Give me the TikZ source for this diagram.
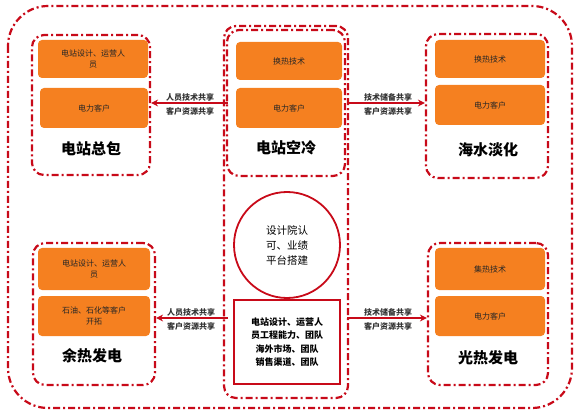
\documentclass[tikz,border=0pt]{standalone}
\usepackage{fontspec}
\newfontfamily\cjk{Noto Sans CJK SC}
\usetikzlibrary{arrows.meta}
\definecolor{dred}{RGB}{200,10,25}
\definecolor{orng}{RGB}{245,128,32}
\tikzset{
  grp/.style={draw=dred, line width=2.2pt, dash pattern=on 7pt off 3pt on 2pt off 3pt, rounded corners=12pt},
  obox/.style={fill=orng, draw=none, rounded corners=4pt, align=center, font=\cjk\fontsize{8}{10.5}\selectfont, text=black!85},
  ttl/.style={font=\cjk\bfseries\fontsize{15}{17}\selectfont},
  conn/.style={draw=dred, line width=1.6pt, -{Stealth[length=7pt,width=7pt]}},
  lbl/.style={font=\cjk\bfseries\fontsize{8}{9}\selectfont, align=center, inner sep=0pt, text=black!80}
}
\begin{document}
\begin{tikzpicture}[x=1pt,y=-1pt]
\useasboundingbox (0,0) rectangle (581,414);
% outer frame
\draw[grp, rounded corners=40pt] (8,6) rectangle (572,408);
% group frames
\node[grp, minimum width=118pt, minimum height=140pt] (gTL) at (91,105) {};
\node[grp, minimum width=118pt, minimum height=146pt] (gTC) at (286,103) {};
\node[grp, minimum width=122pt, minimum height=144pt] (gTR) at (487,106) {};
\node[grp, minimum width=122pt, minimum height=142pt] (gBL) at (94,314) {};
\node[grp, minimum width=120pt, minimum height=142pt] (gBR) at (488,314) {};
\node[grp, minimum width=124pt, minimum height=372pt] (gBC) at (286,212) {};
% top left
\node[obox, minimum width=110pt, minimum height=38pt] (tl1) at (93,59) {电站设计、运营人\\员};
\node[obox, minimum width=108pt, minimum height=40pt] (tl2) at (94,108) {电力客户};
\node[ttl] (tlt) at (91,149) {电站总包};
% top center
\node[obox, minimum width=106pt, minimum height=38pt] (tc1) at (289,61) {换热技术};
\node[obox, minimum width=106pt, minimum height=40pt] (tc2) at (289,108) {电力客户};
\node[ttl] (tct) at (286,148) {电站空冷};
% top right
\node[obox, minimum width=110pt, minimum height=38pt] (tr1) at (490,59) {换热技术};
\node[obox, minimum width=110pt, minimum height=40pt] (tr2) at (490,105) {电力客户};
\node[ttl] (trt) at (488,150) {海水淡化};
% bottom left
\node[obox, minimum width=112pt, minimum height=42pt] (bl1) at (94,269) {电站设计、运营人\\员};
\node[obox, minimum width=112pt, minimum height=40pt] (bl2) at (94,316) {石油、石化等客户\\开拓};
\node[ttl] (blt) at (92,356) {余热发电};
% bottom right
\node[obox, minimum width=110pt, minimum height=42pt] (br1) at (490,269) {集热技术};
\node[obox, minimum width=110pt, minimum height=40pt] (br2) at (490,316) {电力客户};
\node[ttl] (brt) at (488,358) {光热发电};
% center
\node[circle, draw=dred, line width=1.8pt, minimum size=106pt, align=center, font=\cjk\fontsize{10.5}{15}\selectfont] (circ) at (287,245) {设计院认\\可、业绩\\平台搭建};
\node[draw=dred, line width=1.8pt, minimum width=106pt, minimum height=84pt, align=center, font=\cjk\bfseries\fontsize{9}{13.5}\selectfont] (cb) at (287,342) {电站设计、运营人\\员工程能力、团队\\海外市场、团队\\销售渠道、团队};
% connectors
\coordinate (aTL) at (228,103);
\coordinate (aTR) at (347,103);
\coordinate (aBL) at (228,318);
\coordinate (aBR) at (347,318);
\draw[conn] (aTL) -- (gTL.east |- aTL);
\draw[conn] (aTR) -- (gTR.west |- aTR);
\draw[conn] (aBL) -- (gBL.east |- aBL);
\draw[conn] (aBR) -- (gBR.west |- aBR);
\node[lbl] (l1) at (190,97) {人员技术共享};
\node[lbl] (l2) at (190,111) {客户资源共享};
\node[lbl] (l3) at (388,97) {技术储备共享};
\node[lbl] (l4) at (388,111) {客户资源共享};
\node[lbl] (l5) at (191,312) {人员技术共享};
\node[lbl] (l6) at (191,326) {客户资源共享};
\node[lbl] (l7) at (388,312) {技术储备共享};
\node[lbl] (l8) at (388,326) {客户资源共享};
\end{tikzpicture}
\end{document}
